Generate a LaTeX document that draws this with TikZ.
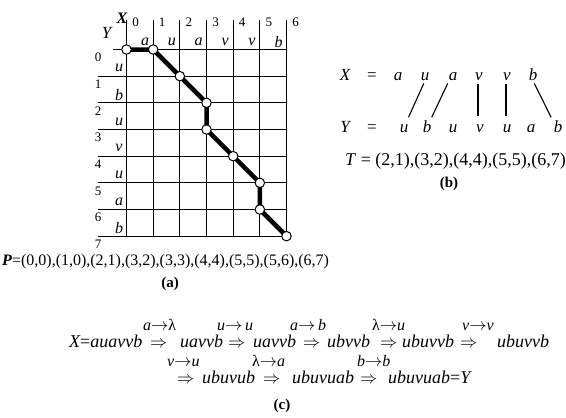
\documentclass[tikz,border=0pt]{standalone}
\usepackage{fontspec}
\setmainfont{Liberation Serif}
\pgfdeclarelayer{background}
\pgfsetlayers{background,main}
\begin{document}
\begin{tikzpicture}[x=1pt,y=-1pt,
  gridline/.style={line width=1pt},
  pathline/.style={line width=4.5pt, line join=round},
  vtx/.style={circle, draw, fill=white, line width=1pt, inner sep=0pt, minimum size=9.5pt},
  num/.style={inner sep=0pt, font=\fontsize{13}{15}\selectfont},
  glet/.style={inner sep=0pt, font=\fontsize{16}{18}\selectfont\itshape},
  blet/.style={inner sep=0pt, text height=1.1ex, text depth=0pt, font=\fontsize{17}{19}\selectfont\itshape},
  bsym/.style={inner sep=0pt, text height=1.1ex, text depth=0pt, font=\fontsize{17}{19}\selectfont},
  txt/.style={inner sep=0pt, font=\fontsize{16}{18}\selectfont},
  captxt/.style={inner sep=0pt, font=\fontsize{15}{17}\selectfont\bfseries},
  ctxt/.style={inner sep=0pt, anchor=base west, font=\fontsize{18}{20}\selectfont\itshape},
  clab/.style={inner sep=0pt, anchor=base west, font=\fontsize{16}{18}\selectfont\itshape},
  conn/.style={line width=1.1pt}
]
\useasboundingbox (0,0) rectangle (566,418);

% ---------- (a) grid ----------
\foreach \i in {0,...,5}
  \draw[gridline] ({126.5+26.667*\i},20) -- ({126.5+26.667*\i},236.2);
\draw[line width=1.6pt] ({126.5+26.667*6},20) -- ({126.5+26.667*6},236.2);
\draw[gridline] (113,49.5) -- (286.5,49.5);
\foreach \j in {1,...,7}
  \draw[gridline] (98,{49.5+26.667*\j}) -- (286.5,{49.5+26.667*\j});

\node[glet, font=\fontsize{16}{18}\selectfont\itshape\bfseries] (Xhead) at (122,18) {X};
\node[glet, font=\fontsize{17}{19}\selectfont\itshape] (Yhead) at (106.5,33) {Y};

\foreach \i in {0,...,6}
  \node[num] (cn\i) at ({126.5+26.667*\i+9},22) {\i};
\foreach \l [count=\k from 1] in {a,u,a,v,v,b}
  \node[glet] (cl\k) at ({126.5+26.667*\k-8},42) {\l};
\foreach \j in {0,...,7}
  \node[num] (rn\j) at (98,{49.5+26.667*\j+8}) {\j};
\foreach \l [count=\k from 1] in {u,b,u,v,u,a,b}
  \node[glet] (rl\k) at (119,{49.5+26.667*\k-8}) {\l};

\foreach \c/\r [count=\k from 0] in {0/0,1/0,2/1,3/2,3/3,4/4,5/5,5/6,6/7}
  \node[vtx] (v\k) at ({126.5+26.667*\c},{49.5+26.667*\r}) {};
\begin{pgfonlayer}{background}
\draw[pathline] (v0.center) -- (v1.center) -- (v2.center) -- (v3.center) -- (v4.center)
  -- (v5.center) -- (v6.center) -- (v7.center) -- (v8.center);
\end{pgfonlayer}

\node[txt, anchor=west] (Pline) at (2,262) {\textit{\textbf{P}}=(0,0),(1,0),(2,1),(3,2),(3,3),(4,4),(5,5),(5,6),(6,7)};
\node[captxt] (capa) at (170,284) {(a)};

% ---------- (b) ----------
\node[blet] (bX) at (345,78) {X};
\node[bsym] (beqX) at (372,78) {=};
\foreach \x/\l [count=\k] in {398/a,425/u,453/a,479/v,507/v,533/b}
  \node[blet] (xl\k) at (\x,78) {\l};
\node[blet] (bY) at (345,130) {Y};
\node[bsym] (beqY) at (372,130) {=};
\foreach \x/\l [count=\k] in {404/u,427/b,453/u,480/v,507/u,531/a,558/b}
  \node[blet] (yl\k) at (\x,130) {\l};
\draw[conn, shorten <=3pt, shorten >=11pt] (xl2.south) -- (yl1.north);
\draw[conn, shorten <=3pt, shorten >=11pt] ([xshift=-4pt]xl3.south) -- (yl2.north);
\draw[conn, shorten <=3pt, shorten >=11pt] ([xshift=-1pt]xl4.south) -- ([xshift=-2pt]yl4.north);
\draw[conn, shorten <=3pt, shorten >=11pt] ([xshift=-1pt]xl5.south) -- ([xshift=-1pt]yl5.north);
\draw[conn, shorten <=3pt, shorten >=11pt] (xl6.south) -- ([xshift=-2pt]yl7.north);
\node[txt, anchor=west, font=\fontsize{18}{20}\selectfont] (Tline) at (345,161) {\textit{T} = (2,1),(3,2),(4,4),(5,5),(6,7)};
\node[captxt] (capb) at (449,184) {(b)};

% ---------- (c) ----------
\node[ctxt] (c1) at (69,347) {X\upshape=\itshape auavvb};
\node[clab] (l1) at (143,330) {a$\rightarrow${\upshape λ}};
\node[ctxt] (a1) at (150,347) {$\Rightarrow$};
\node[ctxt] (c2) at (180,347) {uavvb};
\node[clab] (l2) at (217,330) {u$\rightarrow$\,u};
\node[ctxt] (a2) at (228,347) {$\Rightarrow$};
\node[ctxt] (c3) at (253,347) {uavvb};
\node[clab] (l3) at (290,330) {a$\rightarrow$\,b};
\node[ctxt] (a3) at (303,347) {$\Rightarrow$};
\node[ctxt] (c4) at (327,347) {ubvvb};
\node[clab] (l4) at (372,330) {{\upshape λ}$\rightarrow$u};
\node[ctxt] (a4) at (380,347) {$\Rightarrow$};
\node[ctxt] (c5) at (402,347) {ubuvvb};
\node[clab] (l5) at (462,330) {v$\rightarrow$v};
\node[ctxt] (a5) at (460,347) {$\Rightarrow$};
\node[ctxt] (c6) at (497,347) {ubuvvb};

\node[clab] (l6) at (167,366) {v$\rightarrow$u};
\node[ctxt] (a6) at (177,383) {$\Rightarrow$};
\node[ctxt] (c7) at (202,383) {ubuvub};
\node[clab] (l7) at (252,366) {{\upshape λ}$\rightarrow$a};
\node[ctxt] (a7) at (263,383) {$\Rightarrow$};
\node[ctxt] (c8) at (292,383) {ubuvuab};
\node[clab] (l8) at (357,366) {b$\rightarrow$b};
\node[ctxt] (a8) at (360,383) {$\Rightarrow$};
\node[ctxt] (c9) at (388,383) {ubuvuab\upshape=\itshape Y};
\node[captxt] (capc) at (282,406) {(c)};
\end{tikzpicture}
\end{document}
